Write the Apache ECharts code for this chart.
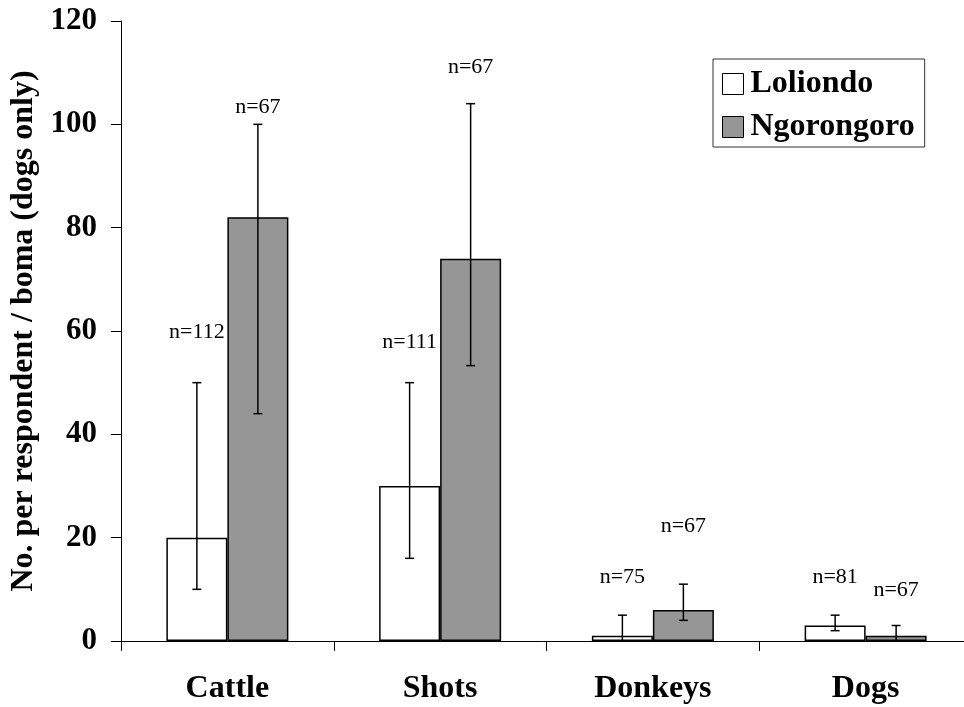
<!DOCTYPE html>
<html>
<head>
<meta charset="utf-8">
<script src="https://cdn.jsdelivr.net/npm/echarts@6/dist/echarts.min.js"></script>
<style>
html,body{margin:0;padding:0;background:#fff;}
#chart{width:964px;height:707px;}
</style>
</head>
<body>
<div id="chart"></div>
<script>
// ---- data ----
const categories = ['Cattle', 'Shots', 'Donkeys', 'Dogs'];
const seriesNames = ['Loliondo', 'Ngorongoro'];
const loliondo = [20, 30, 1, 3];
const ngorongoro = [82, 74, 6, 1];
const loliondoLow = [10, 16, 0, 2];
const loliondoHigh = [50, 50, 5, 5];
const ngorongoroLow = [44, 53.3, 4, 0];
const ngorongoroHigh = [100, 104, 11, 3];
const loliondoN = ['n=112', 'n=111', 'n=75', 'n=81'];
const ngorongoroN = ['n=67', 'n=67', 'n=67', 'n=67'];
const loliondoNPos = [59.7, 57.8, 12.3, 12.3];
const ngorongoroNPos = [103.4, 111, 22.2, 9.8];
const yTicks = { min: 0, max: 120, interval: 20 };

// ---- style ----
const FONT = "'Liberation Serif', 'Times New Roman', serif";
const BAR_W = 61;
const CAP = 4.5;

const chart = echarts.init(document.getElementById('chart'), null, { renderer: 'canvas' });

function errorSeries(low, high, side) {
  return {
    type: 'custom',
    z: 5,
    silent: true,
    data: categories.map((c, i) => [i, low[i], high[i]]),
    renderItem: function (params, api) {
      const i = api.value(0);
      const pLow = api.coord([i, api.value(1)]);
      const pHigh = api.coord([i, api.value(2)]);
      const x = pLow[0] + side * BAR_W / 2;
      const st = { stroke: '#000', lineWidth: 1.5 };
      return {
        type: 'group',
        children: [
          { type: 'line', shape: { x1: x, y1: pLow[1], x2: x, y2: pHigh[1] }, style: st },
          { type: 'line', shape: { x1: x - CAP, y1: pLow[1], x2: x + CAP, y2: pLow[1] }, style: st },
          { type: 'line', shape: { x1: x - CAP, y1: pHigh[1], x2: x + CAP, y2: pHigh[1] }, style: st }
        ]
      };
    }
  };
}

function labelSeries(texts, pos, side) {
  return {
    type: 'custom',
    z: 6,
    silent: true,
    data: categories.map((c, i) => [i, pos[i]]),
    renderItem: function (params, api) {
      const i = api.value(0);
      const p = api.coord([i, api.value(1)]);
      return {
        type: 'text',
        style: {
          x: p[0] + side * BAR_W / 2,
          y: p[1],
          text: texts[params.dataIndex],
          fill: '#000',
          font: '22px ' + FONT,
          align: 'center',
          verticalAlign: 'middle'
        }
      };
    }
  };
}

const option = {
  backgroundColor: '#fff',
  animation: false,
  grid: {
    left: 121, right: -8, top: 21, bottom: 66,
    containLabel: false,
    outerBoundsMode: 'none'
  },
  legend: {
    orient: 'vertical',
    left: 713,
    top: 59,
    padding: [9, 10, 4, 9],
    itemWidth: 21,
    itemHeight: 21,
    itemGap: 11,
    borderColor: '#333',
    borderWidth: 1,
    backgroundColor: '#fff',
    selectedMode: false,
    icon: 'rect',
    textStyle: { fontFamily: FONT, fontSize: 32, fontWeight: 'bold', color: '#000', lineHeight: 32, padding: [0, 0, 0, 2] },
    data: [
      { name: seriesNames[0], itemStyle: { color: '#fff', borderColor: '#000', borderWidth: 1 } },
      { name: seriesNames[1], itemStyle: { color: '#969696', borderColor: '#000', borderWidth: 1 } }
    ]
  },
  xAxis: {
    type: 'category',
    data: categories,
    axisLine: { show: true, lineStyle: { color: '#000', width: 1 } },
    axisTick: { show: true, length: 10, lineStyle: { color: '#000', width: 1 } },
    axisLabel: { fontFamily: FONT, fontSize: 32, fontWeight: 'bold', color: '#000', margin: 32 },
    splitLine: { show: false }
  },
  yAxis: {
    type: 'value',
    min: yTicks.min,
    max: yTicks.max,
    interval: yTicks.interval,
    name: 'No. per respondent / boma (dogs only)',
    nameLocation: 'middle',
    nameRotate: 90,
    nameGap: 77,
    nameTextStyle: { fontFamily: FONT, fontSize: 32, fontWeight: 'bold', color: '#000' },
    axisLine: { show: true, lineStyle: { color: '#000', width: 1 } },
    axisTick: { show: true, length: 10, lineStyle: { color: '#000', width: 1 } },
    axisLabel: { fontFamily: FONT, fontSize: 31, fontWeight: 'bold', color: '#000', margin: 24 },
    splitLine: { show: false }
  },
  series: [
    {
      name: seriesNames[0],
      type: 'bar',
      data: loliondo,
      barWidth: BAR_W,
      barGap: '0%',
      itemStyle: { color: '#fff', borderColor: '#000', borderWidth: 1.5 }
    },
    {
      name: seriesNames[1],
      type: 'bar',
      data: ngorongoro,
      barWidth: BAR_W,
      barGap: '0%',
      itemStyle: { color: '#969696', borderColor: '#000', borderWidth: 1.5 }
    },
    errorSeries(loliondoLow, loliondoHigh, -1),
    errorSeries(ngorongoroLow, ngorongoroHigh, 1),
    labelSeries(loliondoN, loliondoNPos, -1),
    labelSeries(ngorongoroN, ngorongoroNPos, 1)
  ]
};

chart.setOption(option);
</script>
</body>
</html>
